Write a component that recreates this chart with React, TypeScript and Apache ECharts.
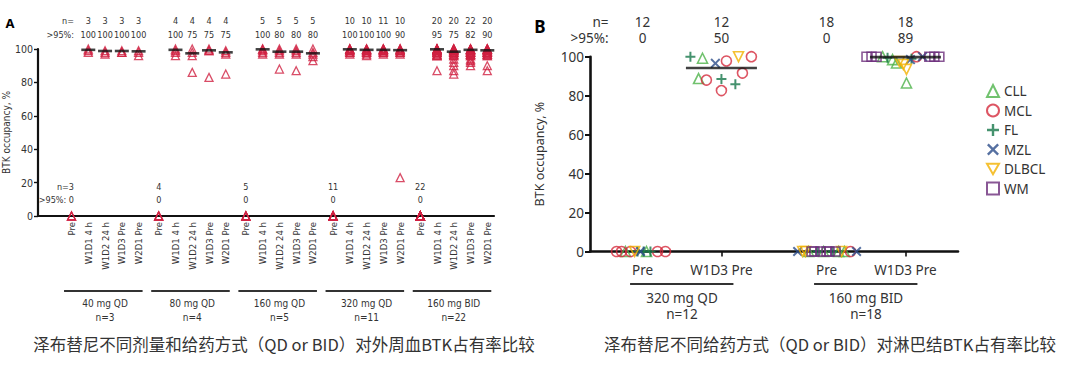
import React, { useEffect, useRef } from "react";
import * as echarts from "echarts";

// ---------------- Panel A data ----------------
const timepointsA = ["Pre", "W1D1 4 h", "W1D2 24 h", "W1D3 Pre", "W2D1 Pre"];
const doseGroupsA = ["40 mg QD", "80 mg QD", "160 mg QD", "320 mg QD", "160 mg BID"];
const groupNA = ["n=3", "n=4", "n=5", "n=11", "n=22"];
const nA = [
  [3, 3, 3, 3, 3],
  [4, 4, 4, 4, 4],
  [5, 5, 5, 5, 5],
  [11, 10, 10, 11, 10],
  [22, 20, 20, 22, 20],
];
const pctA = [
  [0, 100, 100, 100, 100],
  [0, 100, 75, 75, 75],
  [0, 100, 80, 80, 80],
  [0, 100, 100, 100, 90],
  [0, 95, 75, 82, 90],
];
const medianA = [
  [0, 99.5, 98.8, 98.8, 98.6],
  [0, 99.5, 97.4, 99.2, 98.0],
  [0, 99.8, 98.4, 98.4, 97.4],
  [0, 99.8, 99.5, 99.5, 99.3],
  [0, 99.8, 98.4, 99.5, 99.2],
];
const occA40 = [[0, 0, 0], [100, 99, 98], [99, 98, 97], [99, 98, 98], [99, 98, 96]];
const occA80 = [[0, 0, 0, 0], [100, 99, 98, 96], [100, 98, 96, 86], [100, 99, 99, 83], [99, 98, 97, 85]];
const occA160 = [[0, 0, 0, 0, 0], [100, 100, 99, 98, 97], [100, 99, 98, 97, 88], [100, 99, 98, 97, 87], [100, 98, 97, 95.5, 93]];
const occA320 = [
  [0, 0, 0, 0, 0, 0, 0, 0, 0, 0, 0],
  [100, 100, 100, 100, 99, 99, 99, 98, 98, 97],
  [100, 100, 100, 99, 99, 99, 98, 98, 97, 96],
  [100, 100, 100, 100, 99, 99, 99, 99, 98, 98, 97],
  [100, 100, 100, 99, 99, 99, 98, 98, 97, 23],
];
const occA160bid = [
  [0, 0, 0, 0, 0, 0, 0, 0, 0, 0, 0, 0, 0, 0, 0, 0, 0, 0, 0, 0, 0, 0],
  [100, 100, 100, 100, 100, 100, 99, 99, 99, 99, 99, 98, 98, 98, 97, 97, 96, 96, 96, 87],
  [100, 100, 100, 100, 99, 99, 99, 99, 98, 98, 98, 97, 97, 96, 96, 94, 92, 90, 87, 85],
  [100, 100, 100, 100, 100, 99, 99, 99, 99, 98, 98, 98, 98, 97, 97, 97, 96, 96, 94, 93, 92, 90],
  [100, 100, 100, 100, 100, 99, 99, 99, 99, 98, 98, 98, 98, 97, 97, 97, 96, 96, 90, 87],
];
const occA = [occA40, occA80, occA160, occA320, occA160bid];

// ---------------- Panel B data ----------------
const typesB = ["CLL", "MCL", "FL", "MZL", "DLBCL", "WM"];
const columnsB = ["Pre", "W1D3 Pre", "Pre", "W1D3 Pre"];
const doseGroupsB = ["320 mg QD", "160 mg BID"];
const groupNB = ["n=12", "n=18"];
const nB = [12, 12, 18, 18];
const pctB = [0, 50, 0, 89];
const medianB = [null, 94.2, null, 99.8];

const col1Types = ["MCL", "MCL", "CLL", "MCL", "DLBCL", "FL", "MZL", "FL", "CLL", "FL", "MCL", "MCL"];
const col1Vals = [0, 0, 0, 0, 0, 0, 0, 0, 0, 0, 0, 0];
const col1Jitter = [-0.99, -0.8, -0.65, -0.46, -0.3, -0.19, -0.08, 0.04, 0.15, 0.3, 0.57, 0.87];

const col2Types = ["FL", "CLL", "MZL", "MCL", "DLBCL", "MCL", "CLL", "MCL", "FL", "MCL", "MCL", "FL"];
const col2Vals = [100, 99.2, 96.6, 97.8, 100, 100, 88.8, 88, 88.5, 91.6, 82.6, 85.9];
const col2Jitter = [-1.18, -0.72, -0.23, 0.19, 0.65, 1.14, -0.87, -0.57, 0, 0.8, 0, 0.53];

const col3Types = ["MZL", "DLBCL", "DLBCL", "CLL", "WM", "WM", "FL", "WM", "CLL", "WM", "WM", "FL", "WM", "CLL", "DLBCL", "CLL", "MCL", "MZL"];
const col3Vals = [0, 0, 0, 0, 0, 0, 0, 0, 0, 0, 0, 0, 0, 0, 0, 0, 0, 0];
const col3Jitter = [-1.1, -0.91, -0.8, -0.68, -0.57, -0.46, -0.34, -0.23, -0.11, 0, 0.11, 0.23, 0.34, 0.46, 0.57, 0.68, 0.91, 1.14];

const col4Types = ["WM", "WM", "WM", "CLL", "FL", "CLL", "CLL", "DLBCL", "DLBCL", "DLBCL", "CLL", "FL", "MZL", "MCL", "MZL", "WM", "WM", "WM"];
const col4Vals = [100, 100, 100, 100, 99.5, 98.5, 96.8, 97.5, 96, 93.5, 86.5, 99, 98.5, 100, 100, 100, 100, 100];
const col4Jitter = [-1.48, -1.29, -1.1, -0.87, -0.68, -0.49, -0.34, -0.23, -0.08, 0.04, 0.04, 0.23, 0.19, 0.42, 0.65, 0.91, 1.1, 1.29];

// ---------------- Styling / layout ----------------
const NARROW = "'Liberation Sans Narrow', 'DejaVu Sans Condensed', 'Liberation Sans', sans-serif";
const SANS = "'Noto Sans', 'Open Sans', sans-serif";
const CJK = "'Noto Sans CJK SC', sans-serif";
const TXT = "#333";
const RED_A = "#cf2141";
const GROUP_PITCH = 26;
const SLOT = 5;
const COL_POS_B = [0, 3, 7, 10];

function crossPath(L: number, h: number, angle: number) {
  const pts = [
    [-h, -L], [h, -L], [h, -h], [L, -h], [L, h], [h, h],
    [h, L], [-h, L], [-h, h], [-L, h], [-L, -h], [-h, -h],
  ];
  const c = Math.cos(angle), s = Math.sin(angle);
  const r = pts.map(([x, y]) => [(x * c - y * s + 10).toFixed(3), (x * s + y * c + 10).toFixed(3)]);
  return "path://M" + r.map((p) => p.join(",")).join("L") + "Z";
}
const PLUS = crossPath(5, 1, 0);
const CROSS = crossPath(5, 0.8, Math.PI / 4);
const TRI_DOWN = "path://M0,0L10,0L5,8.66Z";

const typeStyle: Record<string, any> = {
  CLL: { color: "#4db34a", symbol: "triangle", open: true, size: 10 },
  MCL: { color: "#d42a3c", symbol: "circle", open: true, size: 10 },
  FL: { color: "#17774a", symbol: PLUS, open: false, size: 10 },
  MZL: { color: "#2c4c8a", symbol: CROSS, open: false, size: 10 },
  DLBCL: { color: "#f2b200", symbol: TRI_DOWN, open: true, size: 10 },
  WM: { color: "#6b2d7b", symbol: "rect", open: true, size: 9 },
};

function posA(g: number, t: number) {
  return g * GROUP_PITCH + t * SLOT;
}

export default function App() {
  const ref = useRef<HTMLDivElement>(null);
  useEffect(() => {
    const chart = echarts.init(ref.current!, null, { renderer: "svg" });

    const aPoints: number[][] = [];
    const aMedians: number[][] = [];
    const aLabelVals: number[] = [];
    occA.forEach((grp, g) => {
      grp.forEach((vals, t) => {
        aLabelVals.push(posA(g, t));
        vals.forEach((v) => aPoints.push([posA(g, t), v]));
        if (t > 0) aMedians.push([posA(g, t), medianA[g][t]]);
      });
    });

    const colsB = [
      [col1Types, col1Vals, col1Jitter],
      [col2Types, col2Vals, col2Jitter],
      [col3Types, col3Vals, col3Jitter],
      [col4Types, col4Vals, col4Jitter],
    ] as any[];
    const bSeries = typesB.map((tp) => {
      const st = typeStyle[tp];
      const data: number[][] = [];
      colsB.forEach((col, ci) => {
        const [types, vals, jit] = col;
        types.forEach((t: string, i: number) => {
          if (t === tp) data.push([COL_POS_B[ci] + jit[i], vals[i]]);
        });
      });
      return {
        type: "scatter",
        name: tp,
        xAxisIndex: 1,
        yAxisIndex: 1,
        symbol: st.symbol,
        symbolSize: st.size,
        z: 3,
        itemStyle: st.open
          ? { color: "rgba(255,255,255,0)", borderColor: st.color, borderWidth: 1.6 }
          : { color: st.color, borderWidth: 0 },
        data,
      };
    });
    const bMedians: number[][] = [];
    medianB.forEach((m, i) => {
      if (m !== null) bMedians.push([COL_POS_B[i], m as number]);
    });

    const option: any = {
      animation: false,
      textStyle: { fontFamily: SANS },
      grid: [
        { left: 38, top: 49, width: 456, height: 167 },
        { left: 590, top: 56.7, width: 368, height: 194.8 },
      ],
      legend: {
        data: typesB,
        orient: "vertical",
        left: 981,
        top: 79,
        itemWidth: 12,
        itemHeight: 12,
        itemGap: 5.5,
        textStyle: { fontSize: 13.5, color: TXT, fontFamily: SANS, lineHeight: 14 },
        selectedMode: false,
      },
      xAxis: [
        {
          gridIndex: 0,
          type: "value",
          min: -10,
          max: 126,
          splitLine: { show: false },
          axisLine: { onZero: false, lineStyle: { color: "#111", width: 2.2 } },
          axisTick: { show: false },
          axisLabel: {
            customValues: aLabelVals,
            rotate: 90,
            margin: 6,
            fontSize: 9.5,
            fontFamily: NARROW,
            color: TXT,
            formatter: (v: number) => {
              const g = Math.floor((v + 1) / GROUP_PITCH);
              const t = Math.round((v - g * GROUP_PITCH) / SLOT);
              return timepointsA[t] ?? "";
            },
          },
        },
        {
          gridIndex: 1,
          type: "value",
          min: -2,
          max: 12,
          splitLine: { show: false },
          axisLine: { onZero: false, lineStyle: { color: "#111", width: 2.6 } },
          axisTick: { show: true, customValues: [COL_POS_B[1], COL_POS_B[3]], length: 5, lineStyle: { color: "#111", width: 1.6 } },
          axisLabel: {
            customValues: COL_POS_B,
            margin: 11,
            fontSize: 13.5,
            color: TXT,
            formatter: (v: number) => {
              const i = COL_POS_B.findIndex((p) => Math.abs(p - v) < 0.01);
              return i >= 0 ? columnsB[i] : "";
            },
          },
        },
      ],
      yAxis: [
        {
          gridIndex: 0,
          type: "value",
          min: 0,
          max: 100,
          interval: 20,
          splitLine: { show: false },
          axisLine: { show: true, onZero: false, lineStyle: { color: "#111", width: 2.2 } },
          axisTick: { show: true, length: 4, lineStyle: { color: "#111", width: 1.4 } },
          axisLabel: { fontSize: 10.5, fontFamily: NARROW, color: TXT, margin: 5 },
          name: "BTK occupancy, %",
          nameLocation: "middle",
          nameGap: 18,
          nameTextStyle: { fontSize: 10, fontFamily: NARROW, color: TXT },
        },
        {
          gridIndex: 1,
          type: "value",
          min: 0,
          max: 100,
          interval: 20,
          splitLine: { show: false },
          axisLine: { show: true, onZero: false, lineStyle: { color: "#111", width: 2.6 } },
          axisTick: { show: true, length: 5, lineStyle: { color: "#111", width: 2 } },
          axisLabel: { fontSize: 13.5, color: TXT, margin: 6 },
          name: "BTK occupancy, %",
          nameLocation: "middle",
          nameGap: 44,
          nameTextStyle: { fontSize: 12.5, color: TXT },
        },
      ],
      series: [
        {
          type: "scatter",
          name: "A",
          xAxisIndex: 0,
          yAxisIndex: 0,
          symbol: "triangle",
          symbolSize: 8,
          itemStyle: { color: "rgba(255,255,255,0)", borderColor: RED_A, borderWidth: 1.3 },
          data: aPoints,
          z: 3,
        },
        {
          type: "scatter",
          name: "A median",
          xAxisIndex: 0,
          yAxisIndex: 0,
          symbol: "rect",
          symbolSize: [14, 2.6],
          itemStyle: { color: "#111" },
          data: aMedians,
          z: 5,
        },
        ...bSeries,
        {
          type: "scatter",
          name: "B median",
          xAxisIndex: 1,
          yAxisIndex: 1,
          symbol: "rect",
          symbolSize: [71, 2.6],
          itemStyle: { color: "#111" },
          data: bMedians,
          z: 5,
        },
      ],
    };
    chart.setOption(option);

    const P = (gi: number, x: number, y: number) => chart.convertToPixel({ gridIndex: gi } as any, [x, y]) as number[];
    const txt = (text: string, x: number, y: number, size: number, family: string, align = "center", weight = "normal", fill = TXT) => ({
      type: "text",
      silent: true,
      style: {
        text,
        x,
        y,
        fill,
        fontSize: size,
        fontFamily: family,
        fontWeight: weight,
        align,
        textAlign: align,
        verticalAlign: "middle",
        textVerticalAlign: "middle",
      },
    });
    const line = (x1: number, y1: number, x2: number, y2: number, w: number) => ({
      type: "line",
      silent: true,
      shape: { x1, y1, x2, y2 },
      style: { stroke: "#333", lineWidth: w },
    });
    const FA = 9;

    const g: any[] = [];
    g.push(txt("A", 10, 23, 13, SANS, "center", "bold", "#000"));
    g.push(txt("B", 540, 26, 17, SANS, "center", "bold", "#000"));

    const preX0 = P(0, posA(0, 0), 0)[0];
    g.push(txt("n=", preX0 + 2.5, 21, FA, NARROW, "right"));
    g.push(txt(">95%:", preX0 + 2.5, 35, FA, NARROW, "right"));
    doseGroupsA.forEach((name, gi) => {
      for (let t = 1; t < timepointsA.length; t++) {
        const x = P(0, posA(gi, t), 0)[0];
        g.push(txt(String(nA[gi][t]), x, 21, FA, NARROW));
        g.push(txt(String(pctA[gi][t]), x, 35, FA, NARROW));
      }
      const px = P(0, posA(gi, 0), 0)[0];
      if (gi === 0) {
        g.push(txt("n=" + nA[gi][0], px + 2.5, 187, FA, NARROW, "right"));
        g.push(txt(">95%: " + pctA[gi][0], px + 2.5, 200, FA, NARROW, "right"));
      } else {
        g.push(txt(String(nA[gi][0]), px, 187, FA, NARROW));
        g.push(txt(String(pctA[gi][0]), px, 200, FA, NARROW));
      }
      const xEnd = P(0, posA(gi, 4), 0)[0];
      g.push(line(px - 7.5, 291, xEnd + 4, 291, 1.8));
      g.push(txt(name, (px + xEnd) / 2, 303, 10, NARROW));
      g.push(txt(groupNA[gi], (px + xEnd) / 2, 317, 10, NARROW));
    });

    const bx0 = P(1, COL_POS_B[0], 0)[0];
    g.push(txt("n=", bx0 - 34, 22, 13.5, SANS, "right"));
    g.push(txt(">95%:", bx0 - 34, 38, 13.5, SANS, "right"));
    COL_POS_B.forEach((p, i) => {
      const x = P(1, p, 0)[0];
      g.push(txt(String(nB[i]), x, 22, 13.5, SANS));
      g.push(txt(String(pctB[i]), x, 38, 13.5, SANS));
    });
    doseGroupsB.forEach((name, gi) => {
      const x1 = P(1, COL_POS_B[gi * 2], 0)[0];
      const x2 = P(1, COL_POS_B[gi * 2 + 1], 0)[0];
      g.push(line(x1 - 12.5, 284, x2 + 12, 284, 2));
      g.push(txt(name, (x1 + x2) / 2, 298, 13.5, SANS));
      g.push(txt(groupNB[gi], (x1 + x2) / 2, 314, 13.5, SANS));
    });

    g.push(txt("泽布替尼不同剂量和给药方式（QD or BID）对外周血BTK占有率比较", 284, 344, 16.5, CJK));
    g.push(txt("泽布替尼不同给药方式（QD or BID）对淋巴结BTK占有率比较", 830, 344, 16.5, CJK));

    chart.setOption({ graphic: { elements: g } });
    return () => chart.dispose();
  }, []);
  return <div ref={ref} style={{ position: "fixed", left: 0, top: 0, width: 1080, height: 366, background: "#fff" }} />;
}
